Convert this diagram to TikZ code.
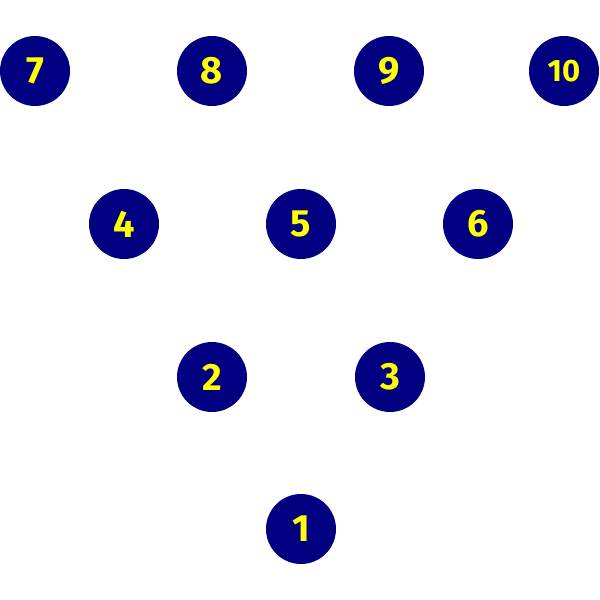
\documentclass[tikz,border=0pt]{standalone}
\usepackage{fontspec}
\setmainfont{Fira Sans}
\definecolor{pinblue}{RGB}{0,0,128}
\definecolor{pinyellow}{RGB}{255,255,0}
\begin{document}
\begin{tikzpicture}[x=1pt,y=-1pt,
  pin/.style={circle,fill=pinblue,minimum size=70pt,inner sep=0pt,text=pinyellow,font=\fontsize{38}{38}\selectfont\bfseries},
  pinsmall/.style={pin,font=\fontsize{31}{31}\selectfont\bfseries}]
\useasboundingbox (0,0) rectangle (600,600);
\node[pin] (p7) at (35,71) {7};
\node[pin] (p8) at (212,71) {8};
\node[pin] (p9) at (389,71) {9};
\node[pinsmall] (p10) at (564,71) {10};
\node[pin] (p4) at (124,224) {4};
\node[pin] (p5) at (301,224) {5};
\node[pin] (p6) at (478,224) {6};
\node[pin] (p2) at (212,377) {2};
\node[pin] (p3) at (390,377) {3};
\node[pin] (p1) at (301,529) {1};
\end{tikzpicture}
\end{document}
